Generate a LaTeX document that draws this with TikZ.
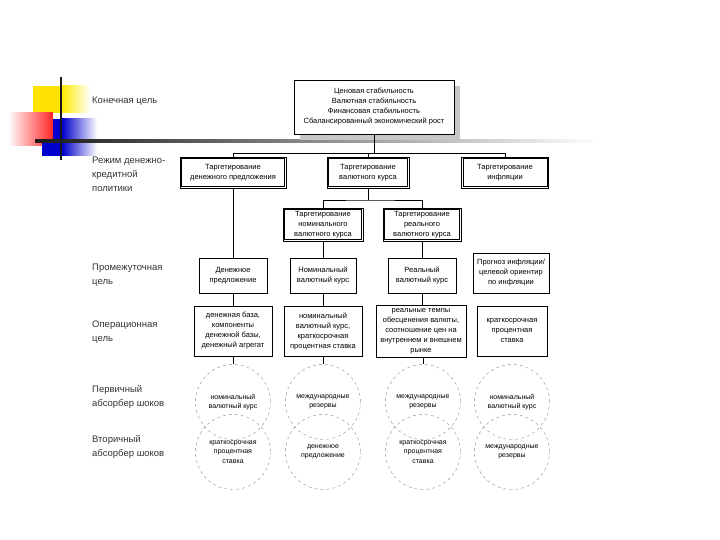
\documentclass[tikz,border=0pt]{standalone}
\usepackage{fontspec}
\setmainfont{Liberation Sans}
\usetikzlibrary{shadows,calc}

\begin{document}
\begin{tikzpicture}[x=1pt, y=-1pt, >=stealth]
    \tikzstyle{level}=[anchor=west,align=left,inner sep=0pt,text=black!80,font=\fontsize{9.5}{14}\selectfont]
    \tikzstyle{regime}=[rectangle,draw,line width=0.6pt,align=center,inner sep=2pt,font=\fontsize{7.5}{10}\selectfont,
      append after command={\pgfextra{\draw[line width=0.5pt] ($(\tikzlastnode.south west)+(1.8,-1.8)$) rectangle ($(\tikzlastnode.north east)+(-1.8,1.8)$);}}]
    \tikzstyle{target}=[rectangle,draw,line width=0.5pt,align=center,inner sep=2pt,font=\fontsize{7.5}{10}\selectfont]
    \tikzstyle{shock}=[circle,draw=black!45,dashed,thin,minimum size=75pt,inner sep=0pt,align=center,font=\fontsize{7}{9.5}\selectfont]
    \useasboundingbox (0,0) rectangle (720,540);

    % template decoration
    \fill[yellow!85!orange] (33,86) rectangle (62,113);
    \shade[left color=yellow!85!orange, right color=white] (62,86) rectangle (90,113);
    \shade[left color=white, right color=red!85] (8,113) rectangle (53,146);
    \fill[blue!80!black] (53,119) rectangle (62,141);
    \fill[blue!80!black] (42,141) rectangle (62,156);
    \shade[left color=blue!80!black, right color=white] (62,119) rectangle (97,156);
    \shade[left color=black!90, middle color=black!45, right color=white] (35,139.8) rectangle (600,142.2);
    \fill[black!90] (59.8,77) rectangle (62.2,160);

    % levels
    \node[level] (lfinal) at (92,101) {Конечная цель};
    \node[level] (lregime) at (92,174) {Режим денежно-\\кредитной\\политики};
    \node[level] (linter) at (92,275) {Промежуточная\\цель};
    \node[level] (loper) at (92,332) {Операционная\\цель};
    \node[level] (lprim) at (92,397) {Первичный\\абсорбер шоков};
    \node[level] (lsec) at (92,447) {Вторичный\\абсорбер шоков};

    % final goal
    \node[regime,minimum width=160pt,minimum height=54pt,fill=white,
      drop shadow={shadow xshift=6pt,shadow yshift=-6pt,fill=black!22,opacity=1}] (final) at (374,107)
      {Ценовая стабильность\\Валютная стабильность\\Финансовая стабильность\\Сбалансированный экономический рост};

    % regimes
    \node[regime,minimum width=106pt,minimum height=31pt] (tms) at (233,172.5) {Таргетирование\\денежного предложения};
    \node[regime,minimum width=82pt,minimum height=31pt] (ter) at (368,172.5) {Таргетирование\\валютного курса};
    \node[regime,minimum width=87pt,minimum height=31pt] (tinf) at (505,172.5) {Таргетирование\\инфляции};
    \node[regime,minimum width=80pt,minimum height=33pt] (tnom) at (323,224.5) {Таргетирование\\номинального\\валютного курса};
    \node[regime,minimum width=78pt,minimum height=33pt] (treal) at (422,224.5) {Таргетирование\\реального\\валютного курса};

    % intermediate targets
    \node[target,minimum width=68pt,minimum height=35pt] (ms) at (233,275.5) {Денежное\\предложение};
    \node[target,minimum width=66pt,minimum height=35pt] (nom) at (323,275.5) {Номинальный\\валютный курс};
    \node[target,minimum width=68pt,minimum height=35pt] (real) at (422,275.5) {Реальный\\валютный курс};
    \node[target,minimum width=76pt,minimum height=40pt] (infl) at (511,273) {Прогноз инфляции/\\целевой ориентир\\по инфляции};

    % operational targets
    \node[target,minimum width=78pt,minimum height=50pt] (opms) at (233,331) {денежная база,\\компоненты\\денежной базы,\\денежный агрегат};
    \node[target,minimum width=78pt,minimum height=50pt] (opnom) at (323,331) {номинальный\\валютный курс,\\краткосрочная\\процентная ставка};
    \node[target,minimum width=90pt,minimum height=52pt] (opreal) at (421,331) {реальные темпы\\обесценения валюты,\\соотношение цен на\\внутреннем и внешнем\\рынке};
    \node[target,minimum width=70pt,minimum height=50pt] (opinf) at (512,331) {краткосрочная\\процентная\\ставка};

    % shock absorbers
    \node[shock] (p1) at (233,402) {номинальный\\валютный курс};
    \node[shock] (p2) at (323,402) {международные\\резервы};
    \node[shock] (p3) at (423,402) {международные\\резервы};
    \node[shock] (p4) at (512,402) {номинальный\\валютный курс};
    \node[shock] (s1) at (233,452) {краткосрочная\\процентная\\ставка};
    \node[shock] (s2) at (323,452) {денежное\\предложение};
    \node[shock] (s3) at (423,452) {краткосрочная\\процентная\\ставка};
    \node[shock] (s4) at (512,452) {международные\\резервы};

    % connectors
    \coordinate (bus1) at (233,153);
    \coordinate (bus2) at (368,200);
    \draw (final.south) -- (final.south |- bus1);
    \draw (tms.north) |- (bus1) -| (tinf.north);
    \draw (ter.north) -- (ter.north |- bus1);
    \draw (ter.south) -- (bus2);
    \draw (tnom.north) |- (bus2) -| (treal.north);
    \draw (tms.south) -- (ms.north);
    \draw (tnom.south) -- (nom.north);
    \draw (treal.south) -- (real.north);
    \draw (ms.south) -- (opms.north);
    \draw (nom.south) -- (opnom.north);
    \draw (real.south) -- (real.south |- opreal.north);
    \draw (opms.south) -- (p1.north);
    \draw (opnom.south) -- (p2.north);
    \draw (opreal.south -| p3.north) -- (p3.north);
\end{tikzpicture}
\end{document}
